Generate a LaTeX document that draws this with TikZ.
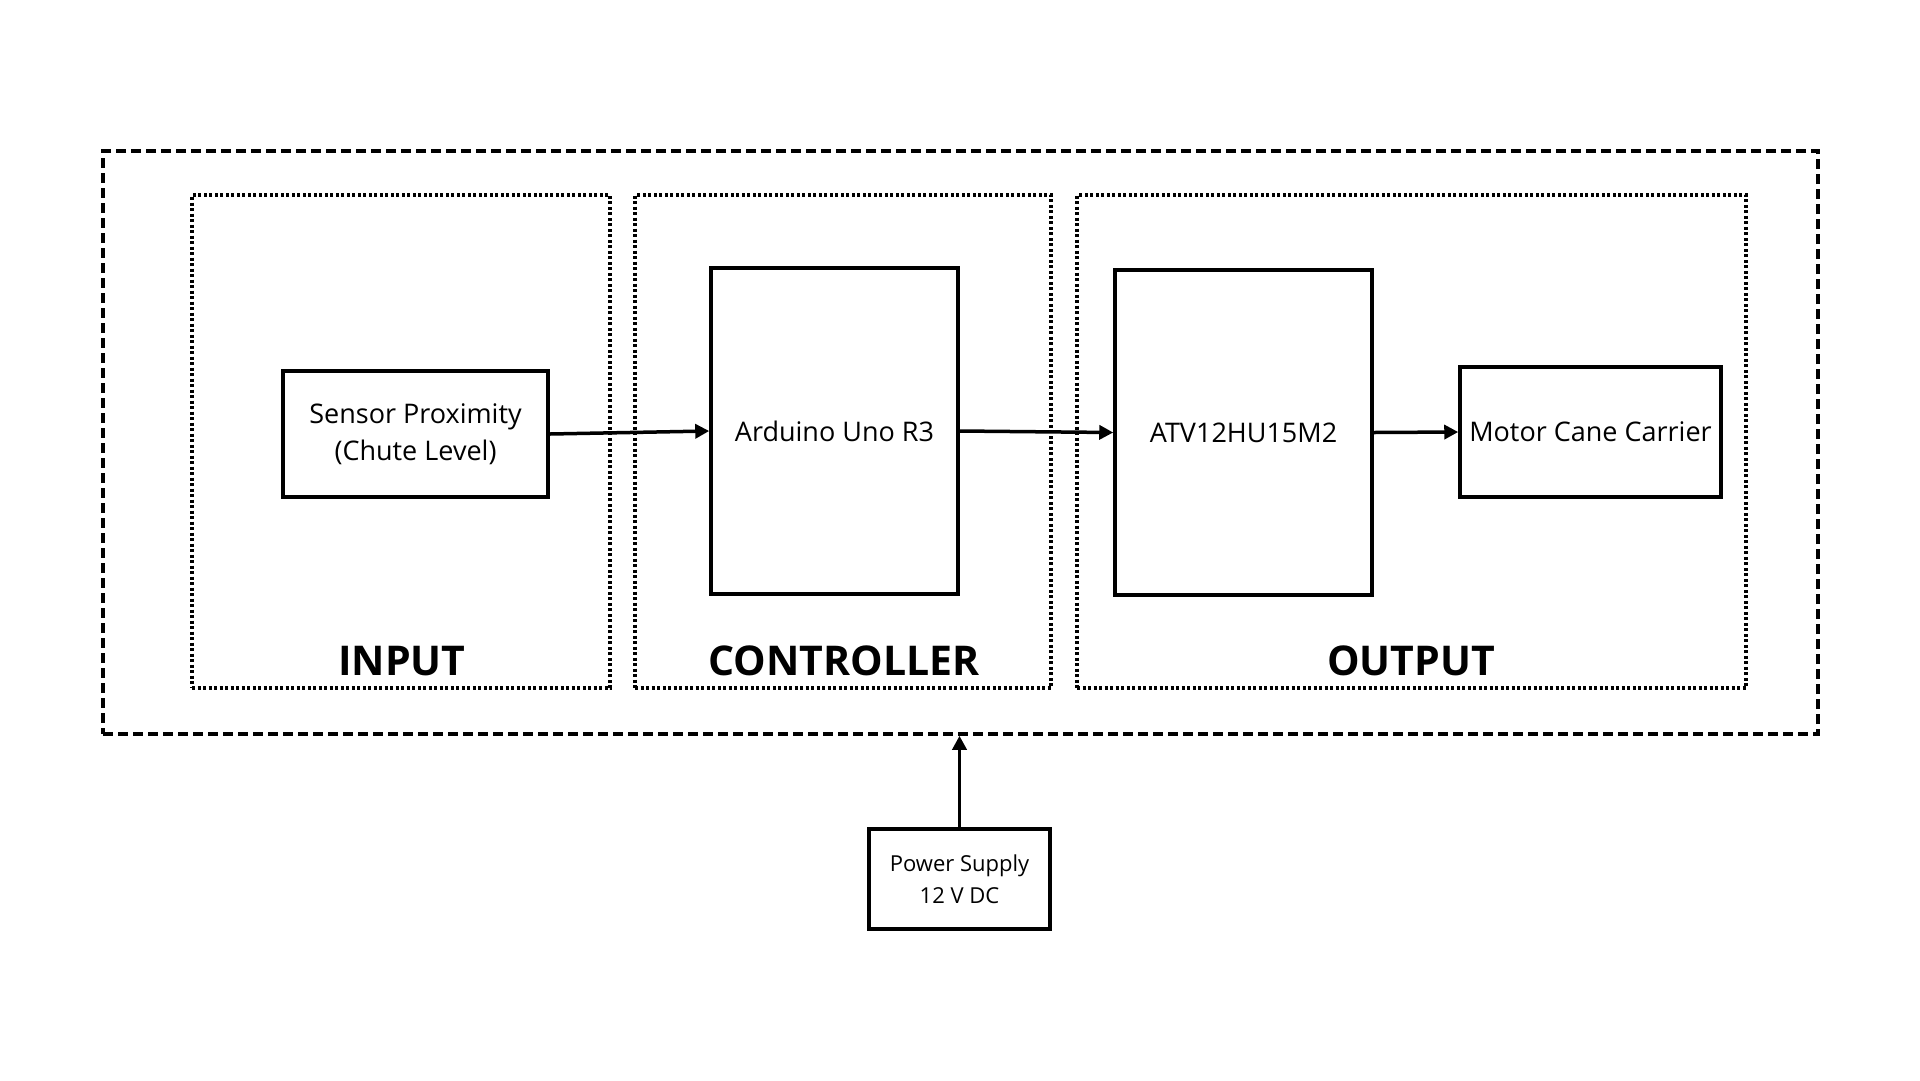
\documentclass[tikz,border=0pt]{standalone}
\usepackage{fontspec}
\setmainfont{Open Sans}
\usetikzlibrary{arrows.meta}

\tikzset{
  block/.style={draw, line width=3.5pt, inner sep=0pt, align=center,
    font=\fontsize{27}{37}\selectfont},
  group/.style={draw, line width=3.5pt, dash pattern=on 3pt off 2.5pt, inner sep=0pt},
  frame/.style={draw, line width=3.5pt, dash pattern=on 10pt off 5pt, inner sep=0pt},
  grouplabel/.style={font=\fontsize{41}{48}\selectfont\bfseries},
  link/.style={line width=3.5pt, -{Triangle[length=14pt,width=14pt]}}
}

\begin{document}
\begin{tikzpicture}[x=1pt,y=-1pt]
        \useasboundingbox[fill=white] (0,0) rectangle (1920,1080);

        % frames
        \node[frame, minimum width=1715pt, minimum height=583pt] (system) at (960.5,442.5) {};
        \node[group, minimum width=418pt, minimum height=493pt] (input) at (401,441.5) {};
        \node[group, minimum width=416pt, minimum height=493pt] (controller) at (843,441.5) {};
        \node[group, minimum width=669pt, minimum height=493pt] (output) at (1411.5,441.5) {};

        \node[grouplabel] (inputlabel) at (402,661) {INPUT};
        \node[grouplabel] (controllerlabel) at (844,661) {CONTROLLER};
        \node[grouplabel] (outputlabel) at (1411,661) {OUTPUT};

        % blocks
        \node[block, minimum width=265pt, minimum height=126pt] (sensor) at (415.5,434) {Sensor Proximity\\(Chute Level)};
        \node[block, minimum width=247pt, minimum height=326pt] (arduino) at (834.5,431) {Arduino Uno R3};
        \node[block, minimum width=257pt, minimum height=325pt] (atv) at (1243.5,432.5) {ATV12HU15M2};
        \node[block, minimum width=261pt, minimum height=130pt] (motor) at (1590.5,432) {Motor Cane Carrier};
        \node[block, minimum width=181pt, minimum height=100pt,
              font=\fontsize{22}{32}\selectfont] (power) at (959.5,879) {Power Supply\\12 V DC};

        % signal flow
        \draw[link] (sensor.east) -- (arduino.west);
        \draw[link] (arduino.east) -- (atv.west);
        \draw[link] (atv.east) -- (motor.west);
        \draw[link] (power.north) -- (power.north |- system.south);
\end{tikzpicture}
\end{document}
